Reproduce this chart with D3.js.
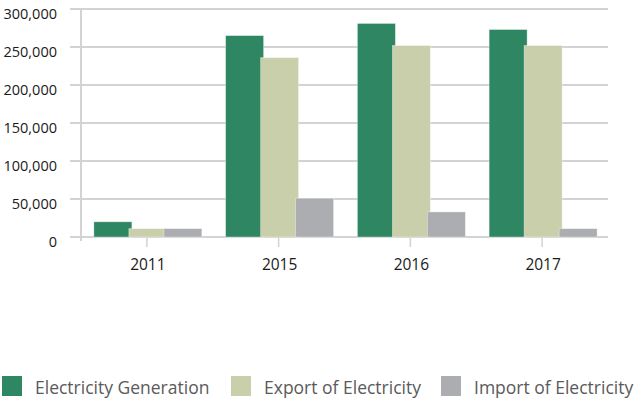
<!DOCTYPE html>
<html>
<head>
<meta charset="utf-8">
<script src="https://cdn.jsdelivr.net/npm/d3@7"></script>
<style>
  html, body { margin: 0; padding: 0; background: #fff; }
  svg { display: block; font-family: "Open Sans", "Noto Sans", sans-serif; }
</style>
</head>
<body>
<svg id="chart" width="638" height="399"></svg>
<script>
// Electricity balance by year
const years = ["2011", "2015", "2016", "2017"];
const seriesNames = ["Electricity Generation", "Export of Electricity", "Import of Electricity"];
const generation = [20000, 265000, 281000, 273000];
const exportsE = [11000, 236000, 252000, 252000];
const importsE = [11000, 51000, 33000, 11000];
const yTicks = [0, 50000, 100000, 150000, 200000, 250000, 300000];
const colors = ["#2e8662", "#cacfab", "#acadb1"];

const seriesValues = [generation, exportsE, importsE];

const svg = d3.select("#chart");
const plotLeft = 81, plotRight = 608, plotTop = 9, plotBottom = 237;

const x = d3.scaleBand().domain(years).range([plotLeft, plotRight]).padding(0);
const y = d3.scaleLinear().domain([0, 300000]).range([plotBottom, plotTop]);

// horizontal gridlines (extend left of the axis as tick marks)
svg.append("g")
  .selectAll("line")
  .data(yTicks)
  .join("line")
  .attr("x1", plotLeft - 11)
  .attr("x2", plotRight)
  .attr("y1", d => y(d))
  .attr("y2", d => y(d))
  .attr("stroke", "#d3d3d3")
  .attr("stroke-width", 2);

// vertical axis line
svg.append("line")
  .attr("x1", plotLeft).attr("x2", plotLeft)
  .attr("y1", y(300000)).attr("y2", plotBottom + 4)
  .attr("stroke", "#d3d3d3")
  .attr("stroke-width", 2);

// y labels
svg.append("g")
  .selectAll("text")
  .data(yTicks)
  .join("text")
  .attr("x", 57)
  .attr("y", d => y(d) + 10)
  .attr("text-anchor", "end")
  .attr("font-size", 14.5)
  .attr("fill", "#1a1a1a")
  .text(d => d3.format(",")(d));

// x tick marks and labels
const cx = d => x(d) + x.bandwidth() / 2;
svg.append("g")
  .selectAll("line")
  .data(years)
  .join("line")
  .attr("x1", cx).attr("x2", cx)
  .attr("y1", plotBottom + 1).attr("y2", plotBottom + 10)
  .attr("stroke", "#d3d3d3")
  .attr("stroke-width", 1.5);

svg.append("g")
  .selectAll("text")
  .data(years)
  .join("text")
  .attr("x", d => cx(d) + 1)
  .attr("y", 270)
  .attr("text-anchor", "middle")
  .attr("font-size", 15.5)
  .attr("fill", "#1a1a1a")
  .text(d => d);

// grouped bars
const barW = 38, step = 35;
const inner = d3.scaleBand().domain(d3.range(seriesNames.length)).range([0, step * 3]);
seriesValues.forEach((vals, si) => {
  svg.append("g")
    .selectAll("rect")
    .data(years.map((yr, i) => ({ yr, v: vals[i] })))
    .join("rect")
    .attr("x", d => cx(d.yr) - 53 + inner(si))
    .attr("y", d => y(d.v))
    .attr("width", barW)
    .attr("height", d => plotBottom - y(d.v))
    .attr("fill", colors[si])
    .attr("stroke", "rgba(255,255,255,0.45)")
    .attr("stroke-width", 0.8);
});

// legend
const legendX = [2, 231, 441];
const legend = svg.append("g");
seriesNames.forEach((name, i) => {
  legend.append("rect")
    .attr("x", legendX[i]).attr("y", 376)
    .attr("width", 20).attr("height", 20)
    .attr("fill", colors[i]);
  legend.append("text")
    .attr("x", legendX[i] + 33)
    .attr("y", 394)
    .attr("font-size", 17.5)
    .attr("fill", "#5a5a5a")
    .text(name);
});
</script>
</body>
</html>
